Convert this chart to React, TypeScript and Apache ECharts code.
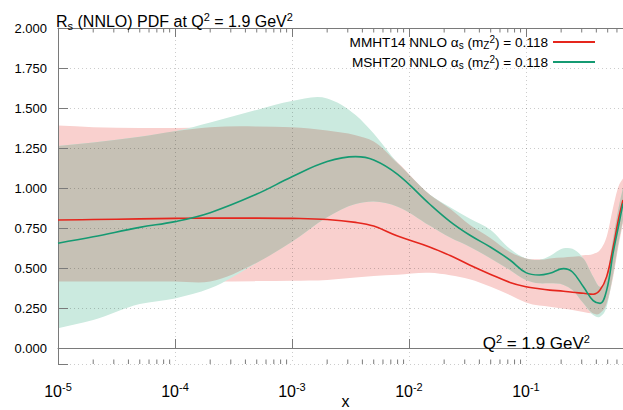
import React, { useEffect, useRef } from "react";
import * as echarts from "echarts";

// x grid (momentum fraction) at which the curves are read
const xValues = [
  1e-5, 2e-5, 5e-5, 1e-4, 2e-4, 5e-4, 1e-3, 2e-3, 3.5e-3, 5e-3, 8e-3, 0.015, 0.0225, 0.033,
  0.05, 0.073, 0.1, 0.13, 0.16, 0.21, 0.25, 0.31, 0.376, 0.43, 0.49, 0.558, 0.617, 0.676,
];

// MMHT14 NNLO central value and uncertainty band
const mmhtCentral = [
  0.8, 0.803, 0.807, 0.81, 0.812, 0.812, 0.81, 0.803, 0.785, 0.762, 0.7, 0.632, 0.578, 0.519,
  0.46, 0.41, 0.383, 0.37, 0.362, 0.355, 0.348, 0.342, 0.336, 0.362, 0.446, 0.633, 0.8, 0.925,
];
const mmhtUpper = [
  1.39, 1.38, 1.375, 1.375, 1.38, 1.385, 1.38, 1.36, 1.33, 1.29, 1.16, 0.96, 0.87, 0.77,
  0.686, 0.6, 0.56, 0.555, 0.56, 0.565, 0.57, 0.58, 0.588, 0.612, 0.696, 0.883, 1.008, 1.06,
];
const mmhtLower = [
  0.415, 0.415, 0.415, 0.415, 0.415, 0.418, 0.42, 0.425, 0.44, 0.45, 0.458, 0.47, 0.455, 0.43,
  0.383, 0.331, 0.285, 0.265, 0.258, 0.245, 0.238, 0.225, 0.215, 0.217, 0.279, 0.446, 0.633, 0.78,
];

// MSHT20 NNLO central value and uncertainty band
const mshtCentral = [
  0.655, 0.695, 0.754, 0.79, 0.846, 0.962, 1.07, 1.165, 1.196, 1.175, 1.085, 0.9, 0.79, 0.706,
  0.63, 0.55, 0.471, 0.456, 0.467, 0.496, 0.475, 0.383, 0.296, 0.279, 0.362, 0.6, 0.758, 0.904,
];
const mshtUpper = [
  1.262, 1.285, 1.32, 1.355, 1.41, 1.488, 1.544, 1.56, 1.456, 1.34, 1.154, 0.96, 0.88, 0.81,
  0.738, 0.62, 0.56, 0.55, 0.575, 0.623, 0.62, 0.56, 0.446, 0.383, 0.446, 0.69, 0.87, 1.0,
];
const mshtLower = [
  0.123, 0.175, 0.275, 0.31, 0.373, 0.533, 0.664, 0.817, 0.9, 0.915, 0.883, 0.765, 0.69, 0.633,
  0.56, 0.488, 0.425, 0.404, 0.404, 0.394, 0.362, 0.279, 0.206, 0.196, 0.258, 0.467, 0.654, 0.8,
];

const seriesNames = ["MMHT14", "MSHT20"];
const legendLabels: Record<string, string> = {
  MMHT14: "{n|MMHT14 NNLO α}{sub|s}{n| (m}{sub|Z}{sup|2}{n|) = 0.118}",
  MSHT20: "{n|MSHT20 NNLO α}{sub|s}{n| (m}{sub|Z}{sup|2}{n|) = 0.118}",
};
const titleText = "{n|R}{sub|s}{n| (NNLO) PDF at Q}{sup|2}{n| = 1.9 GeV}{sup|2}";
const scaleText = "{n|Q}{sup|2}{n| = 1.9 GeV}{sup|2}";
const xAxisName = "x";

const X_MIN = 1e-5;
const X_MAX = 0.676;
const Y_MIN = -0.1;
const Y_MAX = 2.0;
const Y_STEP = 0.25;

const FONT = "'Liberation Sans', Arial, Helvetica, sans-serif";
const RED = "#e5261d";
const GREEN = "#159a72";
const PINK = "#f9d0ce";
const TEAL = "#cbeadf";
const OVERLAP = "#c6c1b5";
const AXIS = "#7a7a7a";
const GRID = "rgba(0,0,0,0.2)";

function rich(size: number, subSize: number, lh: number, subH: number, supH: number) {
  const base = { fontFamily: FONT, color: "#000", fontWeight: "normal" };
  return {
    n: { ...base, fontSize: size, lineHeight: lh },
    sub: { ...base, fontSize: subSize, lineHeight: subH, verticalAlign: "bottom" },
    sup: { ...base, fontSize: subSize, lineHeight: supH, verticalAlign: "top" },
  };
}

function pairs(ys: number[]) {
  return xValues.map((x, i) => [x, ys[i]]);
}

// smooth cubic (Hermite, x-monotone) path through pixel points; "start" = 'M' or 'L'
function curvePath(pts: number[][], start: string) {
  const n = pts.length;
  const slope: number[] = [];
  for (let i = 0; i < n; i++) {
    if (i === 0) slope.push((pts[1][1] - pts[0][1]) / (pts[1][0] - pts[0][0]));
    else if (i === n - 1) slope.push((pts[n - 1][1] - pts[n - 2][1]) / (pts[n - 1][0] - pts[n - 2][0]));
    else {
      const h0 = pts[i][0] - pts[i - 1][0];
      const h1 = pts[i + 1][0] - pts[i][0];
      const d0 = (pts[i][1] - pts[i - 1][1]) / h0;
      const d1 = (pts[i + 1][1] - pts[i][1]) / h1;
      slope.push((d0 * h1 + d1 * h0) / (h0 + h1));
    }
  }
  let d = `${start}${pts[0][0]},${pts[0][1]}`;
  for (let i = 0; i < n - 1; i++) {
    const dx = (pts[i + 1][0] - pts[i][0]) / 3;
    const c1x = pts[i][0] + dx;
    const c1y = pts[i][1] + slope[i] * dx;
    const c2x = pts[i + 1][0] - dx;
    const c2y = pts[i + 1][1] - slope[i + 1] * dx;
    d += `C${c1x},${c1y} ${c2x},${c2y} ${pts[i + 1][0]},${pts[i + 1][1]}`;
  }
  return d;
}

function band(id: string, lower: number[], upper: number[], color: string, z: number) {
  return {
    type: "custom",
    name: id,
    data: xValues.map((x, i) => [x, lower[i], upper[i]]),
    encode: { x: 0, y: [1, 2] },
    clip: true,
    silent: true,
    z,
    renderItem: (params: any, api: any) => {
      if (params.dataIndexInside !== 0) return null;
      const n = params.dataInsideLength;
      const up: number[][] = [];
      const lo: number[][] = [];
      for (let i = 0; i < n; i++) {
        const x = api.value(0, i);
        lo.push(api.coord([x, api.value(1, i)]));
        up.push(api.coord([x, api.value(2, i)]));
      }
      const pathData = curvePath(up, "M") + curvePath(lo.reverse(), "L") + "Z";
      return {
        type: "path",
        shape: { pathData },
        style: { fill: color, stroke: null },
      };
    },
  };
}

const overlapLower = xValues.map((_, i) => Math.max(mmhtLower[i], mshtLower[i]));
const overlapUpper = xValues.map((_, i) => Math.max(overlapLower[i], Math.min(mmhtUpper[i], mshtUpper[i])));

const minorTicks: number[] = [];
for (let d = -5; d <= -1; d++) {
  for (let m = 2; m <= 9; m++) {
    const v = m * Math.pow(10, d);
    if (v < X_MAX) minorTicks.push(v);
  }
}

function xLabel(v: number) {
  const l = Math.log10(v);
  const r = Math.round(l);
  if (Math.abs(l - r) > 1e-6) return "";
  return `{b|10}{e|${r}}`;
}

export default function App() {
  const ref = useRef<HTMLDivElement>(null);
  useEffect(() => {
    if (!ref.current) return;
    const chart = echarts.init(ref.current, undefined, { renderer: "svg" });
    const option: any = {
      animation: false,
      backgroundColor: "#fff",
      textStyle: { fontFamily: FONT },
      grid: { left: 58, right: 0, top: 28, bottom: 46, containLabel: false, outerBoundsMode: "none" },
      title: [
        {
          text: titleText,
          left: 56,
          top: 11,
          padding: 0,
          textStyle: { fontWeight: "normal", rich: rich(16, 11, 20, 11, 13) },
        },
        {
          text: scaleText,
          right: 33,
          top: 333,
          padding: 0,
          textStyle: { fontWeight: "normal", rich: rich(17, 11, 21, 12, 14) },
        },
      ],
      legend: {
        data: seriesNames,
        orient: "vertical",
        align: "right",
        right: 23,
        top: 29,
        icon: "rect",
        itemWidth: 42,
        itemHeight: 2,
        itemGap: 4,
        selectedMode: false,
        formatter: (name: string) => legendLabels[name],
        textStyle: { rich: rich(13.6, 10, 16, 8, 9) },
      },
      xAxis: [
        {
          type: "log",
          position: "bottom",
          min: X_MIN,
          max: X_MAX,
          z: 5,
          name: xAxisName,
          nameLocation: "middle",
          nameGap: 31,
          nameMoveOverlap: false,
          nameTextStyle: {
            fontSize: 16,
            lineHeight: 13,
            color: "#000",
            fontFamily: FONT,
            padding: [0, 0, 0, 10],
          },
          axisLine: { show: true, lineStyle: { color: AXIS, width: 1 } },
          axisTick: { show: true, inside: true, length: 9, lineStyle: { color: AXIS } },
          minorTick: { show: false },
          splitLine: { show: true, lineStyle: { color: GRID, type: [1, 3], width: 1 } },
          axisLabel: {
            margin: 17,
            formatter: xLabel,
            rich: {
              b: { fontSize: 16, fontFamily: FONT, color: "#000", lineHeight: 21 },
              e: { fontSize: 11, fontFamily: FONT, color: "#000", lineHeight: 13, verticalAlign: "top" },
            },
          },
        },
        {
          type: "log",
          position: "top",
          min: X_MIN,
          max: X_MAX,
          z: 5,
          axisLine: { show: true, lineStyle: { color: AXIS, width: 1 } },
          axisTick: { show: true, inside: true, length: 9, lineStyle: { color: AXIS } },
          splitLine: { show: false },
          axisLabel: { show: false },
        },
      ],
      yAxis: {
        type: "value",
        min: Y_MIN,
        max: Y_MAX,
        minInterval: Y_STEP,
        maxInterval: Y_STEP,
        z: 5,
        axisLine: { show: true, lineStyle: { color: AXIS, width: 1 } },
        axisTick: { show: true, inside: true, length: 10, lineStyle: { color: AXIS } },
        splitLine: { show: true, lineStyle: { color: GRID, type: [1, 3], width: 1 } },
        axisLabel: {
          margin: 11,
          fontSize: 13,
          color: "#000",
          fontFamily: FONT,
          formatter: (v: number) => (v < -1e-9 ? "" : v.toFixed(3)),
        },
      },
      series: [
        band("mmht-band", mmhtLower, mmhtUpper, PINK, 1),
        band("msht-band", mshtLower, mshtUpper, TEAL, 2),
        band("overlap-band", overlapLower, overlapUpper, OVERLAP, 3),
        {
          type: "custom",
          name: "minor-ticks",
          data: minorTicks.map((v) => [v, 0]),
          encode: { x: 0, y: 1 },
          clip: false,
          silent: true,
          z: 6,
          renderItem: (_p: any, api: any) => {
            const x = api.value(0);
            const b = api.coord([x, Y_MIN]);
            const t = api.coord([x, Y_MAX]);
            const style = { stroke: AXIS, lineWidth: 1 };
            return {
              type: "group",
              children: [
                { type: "line", shape: { x1: b[0], y1: b[1], x2: b[0], y2: b[1] - 4.5 }, style },
                { type: "line", shape: { x1: t[0], y1: t[1], x2: t[0], y2: t[1] + 4.5 }, style },
              ],
            };
          },
        },
        {
          type: "line",
          name: seriesNames[0],
          data: pairs(mmhtCentral),
          symbol: "none",
          smooth: 0.4,
          color: RED,
          itemStyle: { color: RED },
          lineStyle: { color: RED, width: 1.6 },
          z: 7,
        },
        {
          type: "line",
          name: seriesNames[1],
          data: pairs(mshtCentral),
          symbol: "none",
          smooth: 0.4,
          color: GREEN,
          itemStyle: { color: GREEN },
          lineStyle: { color: GREEN, width: 1.6 },
          z: 7,
        },
      ],
    };
    chart.setOption(option);
    return () => chart.dispose();
  }, []);
  return (
    <div
      ref={ref}
      style={{ position: "fixed", left: 0, top: 0, width: 623, height: 410, background: "#fff" }}
    />
  );
}
